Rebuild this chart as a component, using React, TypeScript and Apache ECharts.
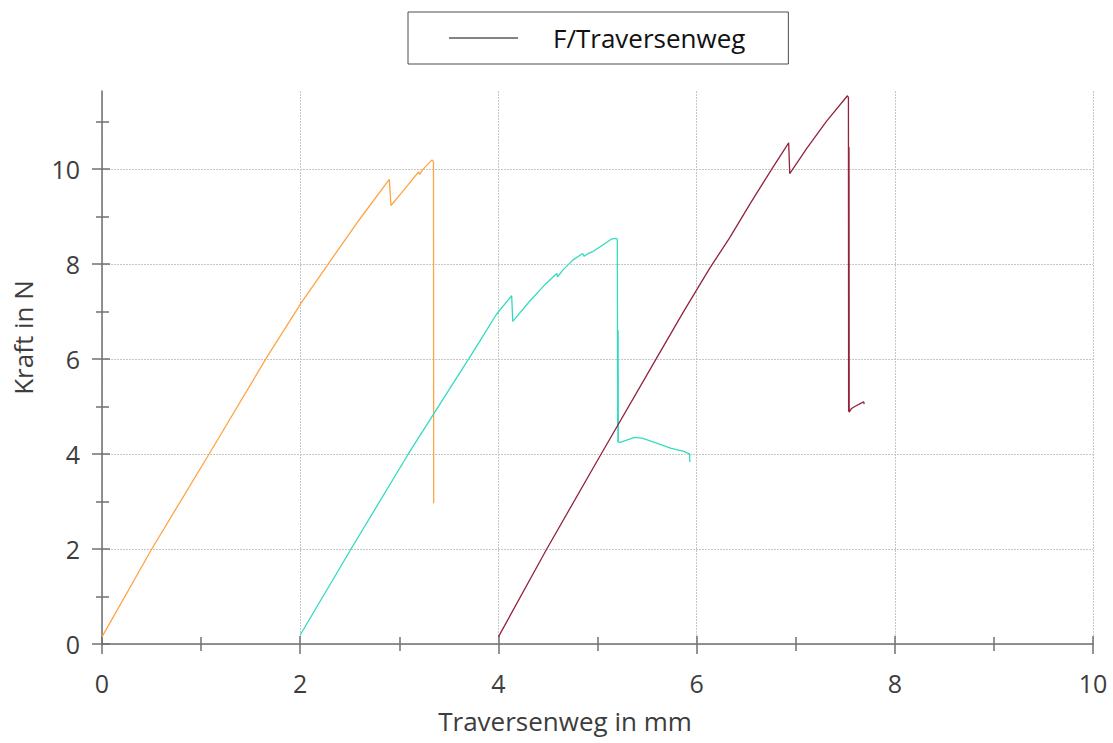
import { useEffect, useRef } from "react";
import * as echarts from "echarts";

// Kraft-Weg-Kurven dreier Proben (x: Traversenweg in mm, y: Kraft in N)
const probe1X = [0, 0.502, 1.081, 1.653, 2.007, 2.3, 2.596, 2.899, 2.916, 3.06, 3.195, 3.205, 3.235, 3.33, 3.345, 3.347];
const probe1Y = [0.15, 2.0, 4.0, 6.0, 7.17, 8.05, 8.93, 9.78, 9.23, 9.59, 9.94, 9.88, 9.98, 10.19, 10.15, 2.96];

const probe2X = [2.0, 2.513, 3.091, 3.7, 3.808, 3.977, 4.134, 4.145, 4.313, 4.482, 4.589, 4.597, 4.65, 4.75, 4.85, 4.865, 4.9, 4.953, 5.054, 5.138, 5.185, 5.2, 5.203, 5.204, 5.206, 5.208, 5.21, 5.222, 5.374, 5.458, 5.66, 5.744, 5.862, 5.929, 5.932];
const probe2Y = [0.19, 2.0, 4.0, 6.0, 6.36, 6.93, 7.33, 6.79, 7.21, 7.59, 7.8, 7.73, 7.87, 8.08, 8.22, 8.16, 8.21, 8.26, 8.4, 8.52, 8.54, 8.52, 4.6, 6.61, 4.24, 6.6, 4.26, 4.24, 4.35, 4.33, 4.18, 4.12, 4.06, 4.0, 3.83];

const probe3X = [4.0, 4.488, 5.037, 5.592, 5.87, 6.13, 6.333, 6.55, 6.744, 6.929, 6.94, 7.108, 7.31, 7.522, 7.532, 7.534, 7.535, 7.537, 7.538, 7.54, 7.56, 7.596, 7.65, 7.687, 7.69];
const probe3Y = [0.15, 2.0, 4.0, 6.0, 7.0, 7.9, 8.55, 9.3, 9.95, 10.55, 9.9, 10.42, 11.0, 11.54, 11.5, 4.9, 10.47, 4.89, 10.45, 4.88, 4.95, 5.0, 5.06, 5.1, 5.05];

const xMajorTicks = [0, 2, 4, 6, 8, 10];
const xMinorTicks = [1, 3, 5, 7, 9];
const yMajorTicks = [0, 2, 4, 6, 8, 10];
const yMinorTicks = [1, 3, 5, 7, 9, 11];

const X_MIN = 0;
const X_MAX = 10;
const Y_MIN = 0;
const Y_MAX = 11.64;

const legendName = "F/Traversenweg";

const FONT = "'Open Sans', 'Noto Sans', sans-serif";
const TEXT = "#3d3d3d";
const AXIS = "#707070";

const pairs = (xs: number[], ys: number[]) => xs.map((x, i) => [x, ys[i]]);

export default function App() {
  const ref = useRef<HTMLDivElement>(null);

  useEffect(() => {
    if (!ref.current) return;
    const chart = echarts.init(ref.current, null, { renderer: "svg" });

    const axisLineStyle = { color: AXIS, width: 1.5 };

    const baseX = { type: "value", min: X_MIN, max: X_MAX, position: "bottom" };
    const baseY = { type: "value", min: Y_MIN, max: Y_MAX, position: "left" };

    // extra axes only carry ticks; shifting them inwards makes the ticks cross the axis line
    const tickAxis = (base: any, offset: number, length: number, values: number[]) => ({
      ...base,
      offset,
      axisLine: { show: false, onZero: false },
      axisTick: { show: true, length, customValues: values, lineStyle: axisLineStyle },
      axisLabel: { show: false },
      splitLine: { show: false },
    });

    const lineSeries = (name: string, xs: number[], ys: number[], color: string) => ({
      type: "line",
      name,
      data: pairs(xs, ys),
      showSymbol: false,
      symbol: "none",
      silent: true,
      color,
      lineStyle: { color, width: 1.3 },
    });

    chart.setOption({
      animation: false,
      backgroundColor: "#ffffff",
      grid: { left: 102, right: 20, top: 91, bottom: 99, containLabel: false },
      legend: {
        data: [legendName],
        left: 408,
        top: 12,
        padding: [13, 43, 13, 41],
        borderColor: "#4d4d4d",
        borderWidth: 1,
        icon: "rect",
        itemWidth: 69,
        itemHeight: 1.4,
        selectedMode: false,
        textStyle: { fontSize: 26, color: "#111111", fontFamily: FONT, padding: [0, 0, 0, 30] },
      },
      xAxis: [
        {
          ...baseX,
          axisLine: { show: true, onZero: false, lineStyle: axisLineStyle },
          axisTick: { show: false, customValues: xMajorTicks },
          axisLabel: { customValues: xMajorTicks, margin: 26, fontSize: 25, color: TEXT, fontFamily: FONT },
          splitLine: { show: true, lineStyle: { color: "#c6c6c6", width: 1, type: [2, 1] } },
          name: "Traversenweg in mm",
          nameLocation: "middle",
          nameGap: 64,
          nameTextStyle: { fontSize: 26, color: TEXT, fontFamily: FONT, padding: [0, 65, 0, 0] },
        },
        tickAxis(baseX, -8, 18, xMajorTicks),
        tickAxis(baseX, -7, 14, xMinorTicks),
      ],
      yAxis: [
        {
          ...baseY,
          axisLine: { show: true, onZero: false, lineStyle: axisLineStyle },
          axisTick: { show: false, customValues: yMajorTicks },
          axisLabel: { customValues: yMajorTicks, margin: 22, fontSize: 25, color: TEXT, fontFamily: FONT },
          splitLine: { show: true, lineStyle: { color: "#c6c6c6", width: 1, type: [2, 1] } },
          name: "Kraft in N",
          nameLocation: "middle",
          nameGap: 66,
          nameRotate: 90,
          nameTextStyle: { fontSize: 26, color: TEXT, fontFamily: FONT, padding: [0, 0, 0, 60] },
        },
        tickAxis(baseY, -8, 18, yMajorTicks),
        tickAxis(baseY, -7, 13, yMinorTicks),
      ],
      series: [
        { type: "line", name: legendName, data: [], symbol: "none", color: "#5a5a5a", lineStyle: { color: "#5a5a5a", width: 1.4 } },
        lineSeries("Probe 1", probe1X, probe1Y, "#ffa445"),
        lineSeries("Probe 2", probe2X, probe2Y, "#34dbc2"),
        lineSeries("Probe 3", probe3X, probe3Y, "#93233d"),
      ],
    });

    return () => chart.dispose();
  }, []);

  return <div ref={ref} style={{ position: "absolute", left: 0, top: 0, width: 1113, height: 743 }} />;
}
